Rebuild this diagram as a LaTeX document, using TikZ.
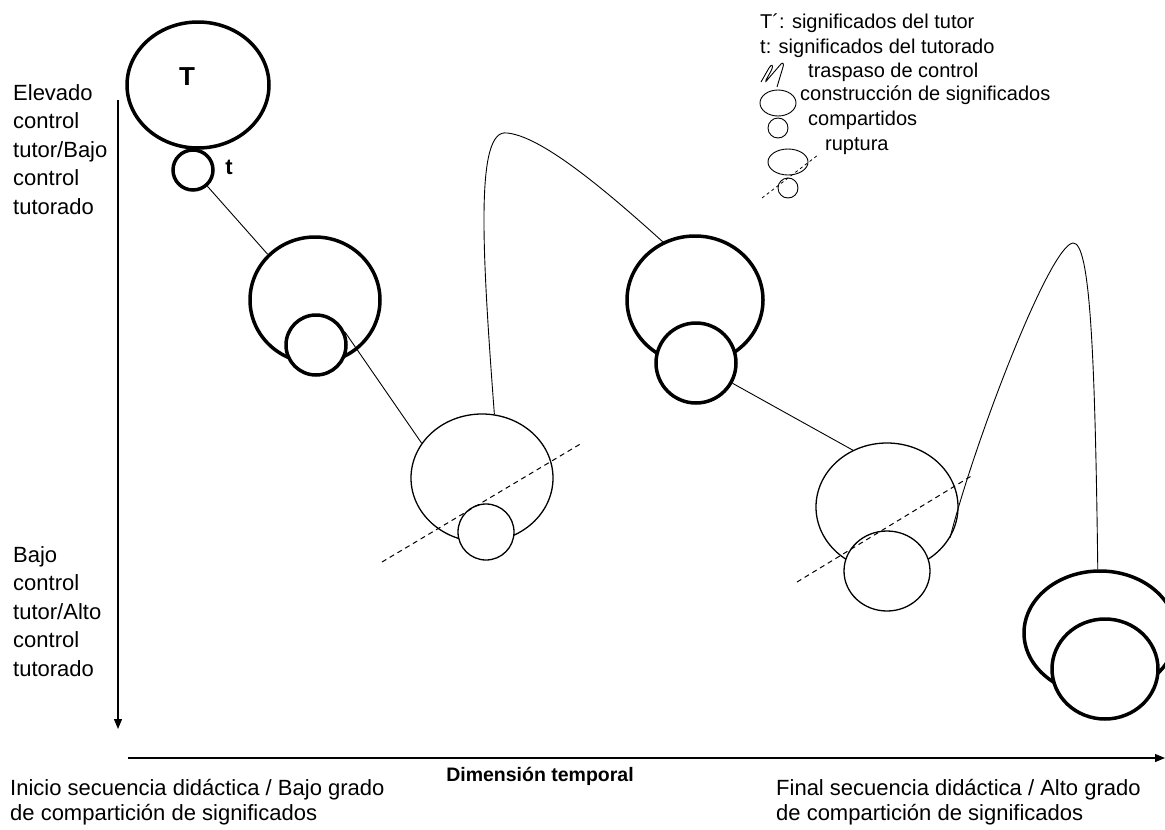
\documentclass[tikz,border=0pt]{standalone}
\usepackage{fontspec}
\setmainfont{Liberation Sans}
\usetikzlibrary{shapes.geometric,arrows.meta}
\begin{document}
\begin{tikzpicture}[x=1pt,y=-1pt,
  thickmean/.style={ellipse,draw,fill=white,line width=3.5pt,inner sep=0pt},
  thinmean/.style={ellipse,draw,fill=white,line width=1.3pt,inner sep=0pt},
  legmean/.style={ellipse,draw,fill=white,line width=0.9pt,inner sep=0pt},
  link/.style={line width=0.9pt},
  cut/.style={line width=1pt,dash pattern=on 5pt off 4pt},
  axis/.style={line width=1.2pt,-{Triangle[length=10pt,width=8pt]}},
  lbl/.style={font=\fontsize{22}{28.5}\selectfont,align=left,inner sep=0pt},
  leg/.style={font=\fontsize{20}{24}\selectfont,inner sep=0pt,anchor=base west},
]
\useasboundingbox (0,0) rectangle (1165,830);
\clip (0,0) rectangle (1165,830);

% axes
\coordinate (vtop) at (118,100);
\coordinate (vbot) at (118,729);
\coordinate (hl) at (128,758);
\coordinate (hr) at (1165,758);
\draw[axis] (vtop) -- (vbot);
\draw[axis] (hl) -- (hr);

% axis texts
\node[lbl,anchor=north west] (hi) at (13,84) {Elevado\\control\\tutor/Bajo\\control\\tutorado};
\node[lbl,anchor=north west] (lo) at (13,546) {Bajo\\control\\tutor/Alto\\control\\tutorado};
\node[lbl,anchor=north west,font=\fontsize{22}{25}\selectfont] (start) at (10,779) {Inicio secuencia didáctica / Bajo grado\\de compartición de significados};
\node[lbl,anchor=north west,font=\fontsize{22}{25}\selectfont] (end) at (776,779) {Final secuencia didáctica / Alto grado\\de compartición de significados};
\node[font=\bfseries\fontsize{19.5}{19.5}\selectfont,inner sep=0pt] (time) at (540,776) {Dimensión temporal};

% stage 0: tutor and tutee
\node[thickmean,minimum width=142pt,minimum height=126pt] (T) at (198,85) {};
\node[font=\bfseries\fontsize{26}{26}\selectfont,inner sep=0pt] (Tl) at (187,77) {T};
\node[thickmean,circle,minimum size=40pt] (t) at (193,170) {};
\node[font=\bfseries\fontsize{22}{22}\selectfont,inner sep=0pt] (tl) at (229,167) {t};

% stage 1
\node[thickmean,minimum width=130pt,minimum height=126pt] (B1) at (315,300) {};
\node[thickmean,circle,minimum size=60pt] (b1) at (316,345) {};

% stage 2 (rupture)
\node[thinmean,minimum width=142pt,minimum height=128pt] (B2) at (482,478) {};
\node[thinmean,circle,minimum size=56pt] (b2) at (486,532) {};

% stage 3
\node[thickmean,minimum width=136pt,minimum height=128pt] (B3) at (695,300) {};
\node[thickmean,circle,minimum size=80pt] (b3) at (696,363) {};

% stage 4 (rupture)
\node[thinmean,minimum width=142pt,minimum height=128pt] (B4) at (887,507) {};
\node[thinmean,minimum width=86pt,minimum height=80pt] (b4) at (887,571) {};

% stage 5
\node[thickmean,minimum width=152pt,minimum height=124pt] (B5) at (1100,633) {};
\node[thickmean,minimum width=106pt,minimum height=100pt] (b5) at (1105,669) {};

% links between stages
\draw[link] (t) -- (B1.136);
\draw[link] (b1.24) -- (B2.150);
\draw[link] (B2.79) .. controls (482,250) and (475,128) .. (507,133)
  .. controls (540,136) and (600,185) .. (B3.119);
\draw[link] (b3) -- (B4.121);
\draw[link] (B4.-26) .. controls (975,440) and (1050,245) .. (1073,243)
  .. controls (1090,242) and (1095,350) .. (B5.92);

% rupture cuts
\coordinate (c2a) at (382,562);
\coordinate (c2b) at (582,443);
\coordinate (c4a) at (797,582);
\coordinate (c4b) at (973,475);
\draw[cut] (c2a) -- (c2b);
\draw[cut] (c4a) -- (c4b);

% legend
\node[leg] (k1) at (760,28) {T´: significados del tutor};
\node[leg] (k2) at (760,53) {t: significados del tutorado};
\node[leg] (k3) at (808,77) {traspaso de control};
\node[leg] (k4) at (800,100) {construcción de significados};
\node[leg] (k5) at (808,125) {compartidos};
\node[leg] (k6) at (825,150) {ruptura};
\draw[link] (761,82) -- (769,68) .. controls (772,63) and (774,65) .. (771,71)
  -- (766,80) .. controls (765,82) and (766,82) .. (768,79)
  -- (781,64) .. controls (783,62) and (784,64) .. (783,67) -- (777,87);
\node[legmean,minimum width=36pt,minimum height=26pt] (L1) at (778,103) {};
\node[legmean,circle,minimum size=20pt] (L1s) at (778,128) {};
\node[legmean,minimum width=40pt,minimum height=26pt] (L2) at (788,162) {};
\node[legmean,circle,minimum size=20pt] (L2s) at (788,188) {};
\coordinate (lca) at (762,198);
\coordinate (lcb) at (818,155);
\draw[cut,line width=0.8pt,dash pattern=on 3pt off 3pt] (lca) -- (lcb);
\end{tikzpicture}
\end{document}
